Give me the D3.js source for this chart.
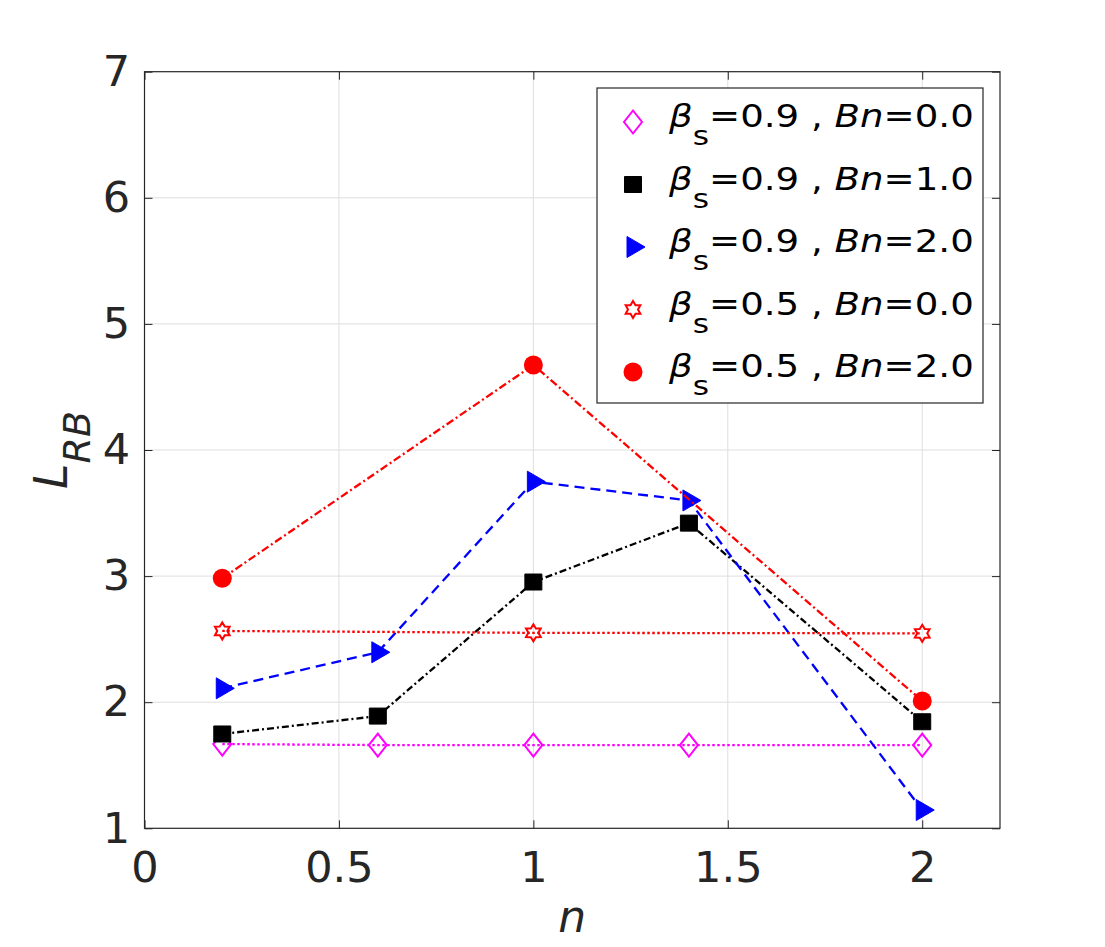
<!DOCTYPE html>
<html>
<head>
<meta charset="utf-8">
<script src="https://cdn.jsdelivr.net/npm/d3@7"></script>
<style>
  body { margin: 0; background: #fff; }
  text { font-family: 'DejaVu Sans', sans-serif; white-space: pre; }
</style>
</head>
<body>
<div id="chart"></div>
<script>
// data
const N_FULL = [0.2, 0.6, 1.0, 1.4, 2.0];
const N_SPARSE = [0.2, 1.0, 2.0];
const L_B09_BN0 = [1.668, 1.66, 1.66, 1.66, 1.66];
const L_B09_BN1 = [1.748, 1.89, 2.953, 3.42, 1.845];
const L_B09_BN2 = [2.11, 2.396, 3.749, 3.60, 1.145];
const L_B05_BN0 = [2.565, 2.55, 2.546];
const L_B05_BN2 = [2.983, 4.674, 2.01];
const BETA_LABELS = ['0.9', '0.9', '0.9', '0.5', '0.5'];
const BN_LABELS = ['0.0', '1.0', '2.0', '0.0', '2.0'];
const X_TICKS = [0, 0.5, 1, 1.5, 2];
const Y_TICKS = [1, 2, 3, 4, 5, 6, 7];

// layout
const fullWidth = 1105;
const fullHeight = 947;
const margin = { top: 71.7, right: 105, bottom: 118.7, left: 144.5 };
const width = fullWidth - margin.left - margin.right;
const height = fullHeight - margin.top - margin.bottom;

const svg = d3.select('#chart').append('svg')
  .attr('width', fullWidth)
  .attr('height', fullHeight);

const g = svg.append('g')
  .attr('transform', `translate(${margin.left},${margin.top})`);

const x = d3.scaleLinear().domain([0, 2.2]).range([0, width]);
const y = d3.scaleLinear().domain([1, 7]).range([height, 0]);

const AXIS_COLOR = '#262626';
const tickFmt = d3.format('~g');

// grid
g.append('g').selectAll('line')
  .data(X_TICKS.slice(1))
  .join('line')
  .attr('x1', d => x(d)).attr('x2', d => x(d))
  .attr('y1', 0).attr('y2', height)
  .attr('stroke', '#dedede').attr('stroke-width', 1);

g.append('g').selectAll('line')
  .data(Y_TICKS.slice(1, -1))
  .join('line')
  .attr('x1', 0).attr('x2', width)
  .attr('y1', d => y(d)).attr('y2', d => y(d))
  .attr('stroke', '#dedede').attr('stroke-width', 1);

// series table
const series = [
  { n: N_FULL, v: L_B09_BN0, color: '#ff00ff', dash: '2.5,2.5', marker: 'diamond' },
  { n: N_FULL, v: L_B09_BN1, color: '#000000', dash: '7,3,2,3', marker: 'square' },
  { n: N_FULL, v: L_B09_BN2, color: '#0000ff', dash: '10,6', marker: 'triangle' },
  { n: N_SPARSE, v: L_B05_BN0, color: '#ff0000', dash: '2.5,2.5', marker: 'hexagram' },
  { n: N_SPARSE, v: L_B05_BN2, color: '#ff0000', dash: '8,3,2,3', marker: 'circle' }
];
series.forEach((s, i) => {
  s.beta = BETA_LABELS[i];
  s.bn = BN_LABELS[i];
  s.points = s.n.map((n, j) => ({ n, v: s.v[j] }));
});

function hexagram(ro, ri) {
  const pts = d3.range(12).map(k => {
    const a = -Math.PI / 2 + k * Math.PI / 6;
    const r = k % 2 === 0 ? ro : ri;
    return [r * Math.cos(a), r * Math.sin(a)];
  });
  return 'M' + pts.map(p => p.join(',')).join('L') + 'Z';
}

function drawMarker(sel, type, color) {
  if (type === 'diamond') {
    sel.append('path').attr('d', 'M0,-11.5L9,0L0,11.5L-9,0Z')
      .attr('fill', 'none').attr('stroke', color).attr('stroke-width', 2);
  } else if (type === 'square') {
    sel.append('path').attr('d', 'M-8.5,-8h17v16h-17Z')
      .attr('fill', color).attr('stroke', color).attr('stroke-width', 1);
  } else if (type === 'triangle') {
    sel.append('path').attr('d', 'M-6,-10.5L12,0L-6,10.5Z')
      .attr('fill', color).attr('stroke', color).attr('stroke-width', 1);
  } else if (type === 'hexagram') {
    sel.append('path').attr('d', hexagram(8.5, 5))
      .attr('fill', 'none').attr('stroke', color).attr('stroke-width', 2);
  } else if (type === 'circle') {
    sel.append('circle').attr('r', 9.5).attr('fill', color);
  }
}

const line = d3.line().x(d => x(d.n)).y(d => y(d.v));

series.forEach(s => {
  const sg = g.append('g');
  sg.append('path')
    .datum(s.points)
    .attr('d', line)
    .attr('fill', 'none')
    .attr('stroke', s.color)
    .attr('stroke-width', 2.3)
    .attr('stroke-dasharray', s.dash);
  sg.selectAll('g')
    .data(s.points)
    .join('g')
    .attr('transform', d => `translate(${x(d.n)},${y(d.v)})`)
    .each(function () { drawMarker(d3.select(this), s.marker, s.color); });
});

// axes (ticks inward, mirrored)
const xAxisG = g.append('g')
  .attr('transform', `translate(0,${height})`)
  .call(d3.axisBottom(x).tickValues(X_TICKS).tickFormat(tickFmt)
    .tickSizeInner(-8).tickSizeOuter(0).tickPadding(23));
const yAxisG = g.append('g')
  .call(d3.axisLeft(y).tickValues(Y_TICKS).tickFormat(tickFmt)
    .tickSizeInner(-8).tickSizeOuter(0).tickPadding(14.5));
g.append('g')
  .call(d3.axisTop(x).tickValues(X_TICKS).tickSizeInner(-8).tickSizeOuter(0).tickFormat(''));
g.append('g')
  .attr('transform', `translate(${width},0)`)
  .call(d3.axisRight(y).tickValues(Y_TICKS).tickSizeInner(-8).tickSizeOuter(0).tickFormat(''));

g.selectAll('.domain').remove();
g.selectAll('.tick line').attr('stroke', AXIS_COLOR);
[xAxisG, yAxisG].forEach(a => a.selectAll('text')
  .attr('fill', AXIS_COLOR)
  .style('font-size', '43px'));

g.append('rect')
  .attr('width', width).attr('height', height)
  .attr('fill', 'none')
  .attr('stroke', AXIS_COLOR).attr('stroke-width', 1.2);

// axis labels
svg.append('text')
  .attr('x', margin.left + width / 2)
  .attr('y', 932)
  .attr('text-anchor', 'middle')
  .attr('fill', AXIS_COLOR)
  .style('font-size', '44px')
  .style('font-style', 'italic')
  .text('n');

const yl = svg.append('text')
  .attr('transform', `translate(67,${margin.top + height / 2}) rotate(-90)`)
  .attr('text-anchor', 'middle')
  .attr('fill', AXIS_COLOR)
  .style('font-style', 'italic');
yl.append('tspan').style('font-size', '46px').text('L');
yl.append('tspan').attr('dy', 23).style('font-size', '38px').text('RB');

// legend
const legend = svg.append('g');
legend.append('rect')
  .attr('x', 597).attr('y', 88)
  .attr('width', 386).attr('height', 315)
  .attr('fill', '#fff')
  .attr('stroke', AXIS_COLOR).attr('stroke-width', 1.2);

const rowY = d3.scalePoint().domain(d3.range(series.length)).range([122, 372]);
const legendTargetWidth = 306;
let stretch = null;

series.forEach((s, i) => {
  const cy = rowY(i);
  const mg = legend.append('g').attr('transform', `translate(633,${cy})`);
  drawMarker(mg, s.marker, s.color);

  const t = legend.append('text')
    .attr('fill', '#000')
    .style('font-size', '32px');
  t.append('tspan').style('font-style', 'italic').text('β');
  t.append('tspan').attr('dy', 18).style('font-size', '27px').text('s');
  t.append('tspan').attr('dy', -18).text(`=${s.beta} , `);
  t.append('tspan').style('font-style', 'italic').text('Bn');
  t.append('tspan').text(`=${s.bn}`);
  if (stretch === null) stretch = legendTargetWidth / t.node().getBBox().width;
  t.attr('transform', `translate(669,${cy + 5}) scale(${stretch},1)`);
});
</script>
</body>
</html>
